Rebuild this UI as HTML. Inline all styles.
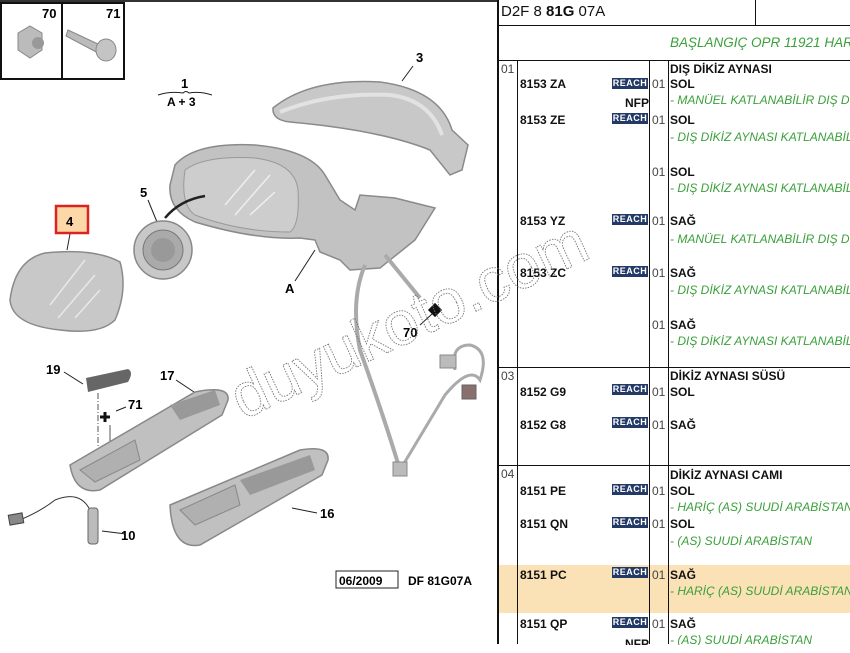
<!DOCTYPE html>
<html><head><meta charset="utf-8"><style>
body{margin:0;width:850px;height:653px;background:#fff;overflow:hidden;position:relative;font-family:"Liberation Sans",Arial,sans-serif}
.t{position:absolute;font-size:12px;line-height:14px;white-space:nowrap;color:#111}
.b{font-weight:bold}
.g{color:#3aa03a;font-style:italic}
.n{color:#444}
.r{position:absolute;background:#233a66;color:#fff;font-size:9px;font-weight:bold;line-height:11px;width:36px;height:11px;text-align:center;letter-spacing:0.5px}
.l{position:absolute;background:#111}
</style></head><body>
<svg width="497" height="653" style="position:absolute;left:0;top:0" font-family="Liberation Sans, Arial, sans-serif">
<rect x="0" y="0" width="497" height="2" fill="#333"/>
<rect x="1" y="3" width="123" height="76" fill="none" stroke="#111" stroke-width="2"/>
<line x1="62" y1="3" x2="62" y2="79" stroke="#111" stroke-width="2"/>
<text x="42" y="18" font-size="13" font-weight="bold">70</text>
<text x="106" y="18" font-size="13" font-weight="bold">71</text>
<polygon points="18,33 30,26 42,33 42,50 30,58 18,50" fill="#bbb" stroke="#888"/>
<circle cx="38" cy="43" r="6" fill="#999"/>
<path d="M68,30 L100,45 L100,54 L66,36 Z" fill="#bbb" stroke="#888"/>
<ellipse cx="106" cy="50" rx="10" ry="11" fill="#c4c4c4" stroke="#888"/>
<text x="181" y="88" font-size="13" font-weight="bold">1</text>
<path d="M158,95 Q170,91 183,93 Q186,90 189,93 Q200,91 212,95" fill="none" stroke="#222"/>
<text x="167" y="106" font-size="12" font-weight="bold">A + 3</text>
<text x="416" y="62" font-size="13" font-weight="bold">3</text>
<line x1="413" y1="66" x2="402" y2="81" stroke="#222"/>
<path d="M273,108 Q310,78 380,82 Q440,90 452,130 L468,145 L462,170 L450,175 L430,150 Q380,130 290,122 Q272,120 273,108 Z" fill="#c8c8c8" stroke="#8a8a8a" stroke-width="1.5"/>
<path d="M280,112 Q330,92 390,95 Q430,100 442,135" fill="none" stroke="#e2e2e2" stroke-width="4"/>
<path d="M175,165 Q195,142 255,145 Q310,150 325,175 L340,200 L355,210 L360,195 L395,198 L435,208 L415,240 L380,268 L350,270 L340,260 L320,252 L315,240 L300,238 Q255,240 195,222 Q168,210 170,185 Z" fill="#c2c2c2" stroke="#8a8a8a" stroke-width="1.5"/>
<path d="M185,170 Q205,155 255,158 Q295,163 298,190 Q300,225 290,232 Q240,232 195,215 Q180,205 185,170 Z" fill="#cdcdcd" stroke="#999"/>
<path d="M225,205 L255,170 M235,215 L270,175 M250,215 L275,192" stroke="#eee" stroke-width="1.5"/>
<path d="M165,218 Q180,200 205,196" fill="none" stroke="#222" stroke-width="2.5"/>
<text x="140" y="197" font-size="13" font-weight="bold">5</text>
<line x1="148" y1="200" x2="157" y2="222" stroke="#222"/>
<circle cx="163" cy="250" r="29" fill="#c8c8c8" stroke="#888" stroke-width="1.5"/>
<circle cx="163" cy="250" r="20" fill="#aaa" stroke="#777"/>
<circle cx="163" cy="250" r="12" fill="#999"/>
<text x="285" y="293" font-size="13" font-weight="bold">A</text>
<line x1="295" y1="281" x2="315" y2="250" stroke="#222"/>
<rect x="56" y="206" width="32" height="27" fill="#fcd8a8" stroke="#d22" stroke-width="2.5"/>
<text x="66" y="226" font-size="13" font-weight="bold">4</text>
<line x1="70" y1="234" x2="67" y2="250" stroke="#222"/>
<path d="M10,300 Q15,260 45,253 Q95,248 120,262 Q128,290 115,320 Q100,335 60,330 Q12,325 10,300 Z" fill="#c8c8c8" stroke="#8a8a8a" stroke-width="1.5"/>
<path d="M50,305 L85,260 M58,318 L95,275 M75,318 L100,290" stroke="#e8e8e8" stroke-width="1.5"/>
<line x1="385" y1="255" x2="420" y2="298" stroke="#aaa" stroke-width="4"/>
<path d="M365,265 Q350,300 360,350 Q385,420 400,470" fill="none" stroke="#aaa" stroke-width="4"/>
<path d="M400,470 Q430,420 445,395 Q470,365 480,380 Q490,350 470,345 Q450,345 455,370" fill="none" stroke="#aaa" stroke-width="3"/>
<rect x="440" y="355" width="16" height="13" fill="#bbb" stroke="#888"/>
<rect x="462" y="385" width="14" height="14" fill="#8a6f6f" stroke="#666"/>
<rect x="393" y="462" width="14" height="14" fill="#bbb" stroke="#888"/>
<rect x="430" y="305" width="10" height="10" fill="#111" transform="rotate(45 435 310)"/>
<line x1="432" y1="314" x2="420" y2="325" stroke="#222"/>
<text x="403" y="337" font-size="13" font-weight="bold">70</text>
<text x="46" y="374" font-size="13" font-weight="bold">19</text>
<line x1="64" y1="372" x2="83" y2="384" stroke="#222"/>
<path d="M86,378 L128,369 Q134,372 128,382 L88,392 Z" fill="#666"/>
<text x="160" y="380" font-size="13" font-weight="bold">17</text>
<line x1="176" y1="380" x2="194" y2="392" stroke="#222"/>
<text x="128" y="409" font-size="13" font-weight="bold">71</text>
<line x1="116" y1="411" x2="126" y2="407" stroke="#222"/>
<path d="M105,412 V422 M100,417 H110" stroke="#111" stroke-width="3"/>
<line x1="98" y1="393" x2="98" y2="460" stroke="#555" stroke-dasharray="6,2,1,2"/>
<line x1="110" y1="425" x2="110" y2="470" stroke="#555"/>
<path d="M70,465 L195,392 Q230,385 228,400 L222,415 L100,490 Q75,495 70,465 Z" fill="#c0c0c0" stroke="#888" stroke-width="1.5"/>
<path d="M80,470 L135,440 L140,460 L95,482 Z" fill="#b0b0b0" stroke="#888"/>
<path d="M170,405 L215,390 L220,405 L180,420 Z" fill="#999"/>
<path d="M170,505 L300,450 Q330,445 328,460 L322,475 L200,545 Q172,550 170,505 Z" fill="#c0c0c0" stroke="#888" stroke-width="1.5"/>
<path d="M180,510 L235,485 L240,505 L195,525 Z" fill="#b0b0b0" stroke="#888"/>
<path d="M240,480 L310,455 L315,470 L250,495 Z" fill="#999"/>
<text x="320" y="518" font-size="13" font-weight="bold">16</text>
<line x1="292" y1="508" x2="317" y2="513" stroke="#222"/>
<path d="M15,522 Q40,512 55,500 Q80,490 90,510" fill="none" stroke="#333"/>
<rect x="9" y="514" width="14" height="10" fill="#888" stroke="#444" transform="rotate(-10 16 519)"/>
<rect x="88" y="508" width="10" height="36" rx="3" fill="#bbb" stroke="#666"/>
<text x="121" y="540" font-size="13" font-weight="bold">10</text>
<line x1="102" y1="531" x2="126" y2="534" stroke="#222"/>
<rect x="336" y="571" width="62" height="17" fill="none" stroke="#222"/>
<text x="339" y="585" font-size="12" font-weight="bold">06/2009</text>
<text x="408" y="585" font-size="12" font-weight="bold">DF 81G07A</text>
</svg>
<div style="position:absolute;left:499px;top:565px;width:351px;height:48px;background:#fbe1b6"></div>
<div class="l" style="left:497px;top:0;width:2px;height:644px"></div>
<div class="l" style="left:755px;top:0;width:1px;height:25px"></div>
<div class="l" style="left:497px;top:25px;width:353px;height:1px"></div>
<div class="l" style="left:497px;top:60px;width:353px;height:1px"></div>
<div class="l" style="left:517px;top:60px;width:1px;height:584px"></div>
<div class="l" style="left:649px;top:60px;width:1px;height:584px"></div>
<div class="l" style="left:668px;top:60px;width:1px;height:584px"></div>
<div class="l" style="left:497px;top:367px;width:353px;height:1px"></div>
<div class="l" style="left:497px;top:465px;width:353px;height:1px"></div>
<div class="t" style="left:501px;top:3px;font-size:15px;line-height:18px">D2F 8 <b>81G</b> 07A</div>
<div class="t g" style="left:670px;top:35px;font-size:13.5px;line-height:16px">BAŞLANGIÇ OPR 11921 HARİÇ</div>

<div class="t n" style="left:501px;top:62px">01</div>
<div class="t b" style="left:670px;top:62px">DIŞ DİKİZ AYNASI</div>
<div class="t b" style="left:520px;top:77px">8153 ZA</div><div class="r" style="left:612px;top:78px">REACH</div><div class="t n" style="left:652px;top:77px">01</div><div class="t b" style="left:670px;top:77px">SOL</div>
<div class="t b" style="left:625px;top:96px">NFP</div><div class="t g" style="left:670px;top:93px">- MANÜEL KATLANABİLİR DIŞ DİKİZ</div>
<div class="t b" style="left:520px;top:113px">8153 ZE</div><div class="r" style="left:612px;top:113px">REACH</div><div class="t n" style="left:652px;top:113px">01</div><div class="t b" style="left:670px;top:113px">SOL</div>
<div class="t g" style="left:670px;top:130px">- DIŞ DİKİZ AYNASI KATLANABİLİR</div>
<div class="t n" style="left:652px;top:165px">01</div><div class="t b" style="left:670px;top:165px">SOL</div>
<div class="t g" style="left:670px;top:181px">- DIŞ DİKİZ AYNASI KATLANABİLİR</div>
<div class="t b" style="left:520px;top:214px">8153 YZ</div><div class="r" style="left:612px;top:214px">REACH</div><div class="t n" style="left:652px;top:214px">01</div><div class="t b" style="left:670px;top:214px">SAĞ</div>
<div class="t g" style="left:670px;top:232px">- MANÜEL KATLANABİLİR DIŞ DİKİZ</div>
<div class="t b" style="left:520px;top:266px">8153 ZC</div><div class="r" style="left:612px;top:266px">REACH</div><div class="t n" style="left:652px;top:266px">01</div><div class="t b" style="left:670px;top:266px">SAĞ</div>
<div class="t g" style="left:670px;top:283px">- DIŞ DİKİZ AYNASI KATLANABİLİR</div>
<div class="t n" style="left:652px;top:318px">01</div><div class="t b" style="left:670px;top:318px">SAĞ</div>
<div class="t g" style="left:670px;top:334px">- DIŞ DİKİZ AYNASI KATLANABİLİR</div>

<div class="t n" style="left:501px;top:369px">03</div>
<div class="t b" style="left:670px;top:369px">DİKİZ AYNASI SÜSÜ</div>
<div class="t b" style="left:520px;top:385px">8152 G9</div><div class="r" style="left:612px;top:384px">REACH</div><div class="t n" style="left:652px;top:385px">01</div><div class="t b" style="left:670px;top:385px">SOL</div>
<div class="t b" style="left:520px;top:418px">8152 G8</div><div class="r" style="left:612px;top:417px">REACH</div><div class="t n" style="left:652px;top:418px">01</div><div class="t b" style="left:670px;top:418px">SAĞ</div>

<div class="t n" style="left:501px;top:467px">04</div>
<div class="t b" style="left:670px;top:468px">DİKİZ AYNASI CAMI</div>
<div class="t b" style="left:520px;top:484px">8151 PE</div><div class="r" style="left:612px;top:484px">REACH</div><div class="t n" style="left:652px;top:484px">01</div><div class="t b" style="left:670px;top:484px">SOL</div>
<div class="t g" style="left:670px;top:500px">- HARİÇ (AS) SUUDİ ARABİSTAN</div>
<div class="t b" style="left:520px;top:517px">8151 QN</div><div class="r" style="left:612px;top:517px">REACH</div><div class="t n" style="left:652px;top:517px">01</div><div class="t b" style="left:670px;top:517px">SOL</div>
<div class="t g" style="left:670px;top:534px">- (AS) SUUDİ ARABİSTAN</div>
<div class="t b" style="left:520px;top:568px">8151 PC</div><div class="r" style="left:612px;top:567px">REACH</div><div class="t n" style="left:652px;top:568px">01</div><div class="t b" style="left:670px;top:568px">SAĞ</div>
<div class="t g" style="left:670px;top:584px">- HARİÇ (AS) SUUDİ ARABİSTAN</div>
<div class="t b" style="left:520px;top:617px">8151 QP</div><div class="r" style="left:612px;top:617px">REACH</div><div class="t n" style="left:652px;top:617px">01</div><div class="t b" style="left:670px;top:617px">SAĞ</div>
<div class="t b" style="left:625px;top:637px">NFP</div><div class="t g" style="left:670px;top:633px">- (AS) SUUDİ ARABİSTAN</div>
<div style="position:absolute;left:0;top:645px;width:850px;height:8px;background:#fff"></div>
<svg width="850" height="653" style="position:absolute;left:0;top:0" font-family="Liberation Sans, Arial, sans-serif">
<text x="243" y="420" font-size="62" fill="none" stroke="#777" stroke-width="0.9" stroke-dasharray="1.5,1.2" transform="rotate(-25 243 420)">duyukoto.com</text>
</svg>
</body></html>
